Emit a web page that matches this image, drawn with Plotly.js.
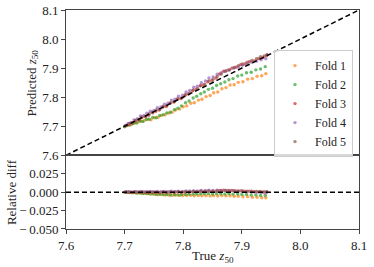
<!DOCTYPE html>
<html>
<head>
<meta charset="utf-8">
<script src="https://cdn.plot.ly/plotly-3.0.1.min.js"></script>
<style>html,body{margin:0;padding:0;background:#fff;}#chart{width:374px;height:267px;}</style>
</head>
<body>
<div id="chart"></div>
<script>
// ---- Data ----
const foldNames = ["Fold 1", "Fold 2", "Fold 3", "Fold 4", "Fold 5"];

const fold1True = [7.701,7.706,7.712,7.717,7.722,7.728,7.733,7.739,7.745,7.751,7.757,7.763,7.769,7.775,7.781,7.787,7.794,7.800,7.806,7.813,7.819,7.826,7.832,7.839,7.846,7.852,7.859,7.866,7.873,7.880,7.887,7.894,7.902,7.910,7.918,7.926,7.934,7.941];
const fold1Pred = [7.700,7.704,7.706,7.712,7.713,7.718,7.719,7.724,7.722,7.729,7.731,7.737,7.739,7.745,7.748,7.756,7.759,7.767,7.770,7.779,7.781,7.790,7.793,7.802,7.806,7.815,7.818,7.829,7.833,7.842,7.843,7.851,7.853,7.862,7.864,7.872,7.874,7.881];

const fold2True = [7.700,7.704,7.709,7.715,7.720,7.726,7.731,7.737,7.742,7.748,7.754,7.760,7.766,7.772,7.778,7.785,7.791,7.797,7.804,7.810,7.817,7.823,7.830,7.836,7.843,7.850,7.857,7.864,7.871,7.878,7.885,7.893,7.900,7.908,7.916,7.924,7.932,7.940];
const fold2Pred = [7.698,7.703,7.704,7.710,7.711,7.717,7.716,7.723,7.724,7.730,7.729,7.737,7.740,7.746,7.748,7.757,7.762,7.770,7.781,7.787,7.797,7.803,7.812,7.818,7.827,7.831,7.840,7.846,7.852,7.860,7.864,7.873,7.876,7.884,7.886,7.894,7.897,7.905];

const fold3True = [7.702,7.707,7.713,7.718,7.724,7.729,7.735,7.741,7.747,7.753,7.759,7.765,7.771,7.777,7.784,7.790,7.796,7.803,7.809,7.816,7.822,7.829,7.835,7.842,7.849,7.856,7.862,7.869,7.876,7.883,7.890,7.898,7.905,7.913,7.921,7.929,7.936,7.942];
const fold3Pred = [7.703,7.706,7.711,7.719,7.722,7.731,7.733,7.738,7.748,7.751,7.756,7.766,7.768,7.779,7.783,7.793,7.795,7.806,7.811,7.822,7.826,7.839,7.842,7.853,7.858,7.866,7.880,7.889,7.893,7.900,7.903,7.912,7.914,7.922,7.925,7.933,7.936,7.943];

const fold4True = [7.701,7.706,7.711,7.716,7.722,7.727,7.733,7.738,7.744,7.750,7.756,7.762,7.768,7.774,7.780,7.786,7.792,7.799,7.805,7.811,7.818,7.824,7.831,7.838,7.844,7.851,7.858,7.865,7.872,7.879,7.886,7.894,7.901,7.909,7.917,7.925,7.933,7.941];
const fold4Pred = [7.703,7.710,7.713,7.722,7.726,7.735,7.737,7.745,7.752,7.754,7.764,7.766,7.776,7.779,7.790,7.793,7.803,7.807,7.818,7.823,7.834,7.838,7.850,7.856,7.866,7.870,7.879,7.884,7.890,7.894,7.900,7.904,7.910,7.914,7.920,7.924,7.929,7.932];

const fold5True = [7.703,7.708,7.714,7.719,7.725,7.730,7.736,7.742,7.748,7.754,7.760,7.766,7.772,7.779,7.785,7.791,7.798,7.804,7.811,7.817,7.824,7.830,7.837,7.844,7.851,7.858,7.865,7.872,7.879,7.887,7.894,7.901,7.909,7.917,7.925,7.932,7.938,7.943];
const fold5Pred = [7.702,7.710,7.712,7.721,7.723,7.732,7.734,7.743,7.746,7.756,7.758,7.768,7.771,7.781,7.785,7.795,7.798,7.809,7.814,7.825,7.830,7.840,7.845,7.856,7.862,7.871,7.880,7.889,7.894,7.902,7.908,7.914,7.920,7.926,7.932,7.939,7.942,7.947];

const refLine = [7.6, 8.1];
const zeroLine = [0, 0];
const xTicks = [7.6, 7.7, 7.8, 7.9, 8.0, 8.1];
const xTickText = ["7.6", "7.7", "7.8", "7.9", "8.0", "8.1"];
const yTicks = [7.6, 7.7, 7.8, 7.9, 8.0, 8.1];
const yTickText = ["7.6", "7.7", "7.8", "7.9", "8.0", "8.1"];
const y2Ticks = [-0.05, -0.025, 0, 0.025];
const y2TickText = ["\u2212\u20090.050", "\u2212\u20090.025", "0.000", "0.025"];

const colors = ["#ff7f0e", "#2ca02c", "#d62728", "#9467bd", "#8c564b"];

// ---- Build traces ----
const trues = [fold1True, fold2True, fold3True, fold4True, fold5True];
const preds = [fold1Pred, fold2Pred, fold3Pred, fold4Pred, fold5Pred];
const traces = [];
for (let i = 0; i < 5; i++) {
  traces.push({
    x: trues[i], y: preds[i], type: "scatter", mode: "markers",
    name: foldNames[i], xaxis: "x", yaxis: "y",
    marker: {color: colors[i], size: 3.4, opacity: 0.7}
  });
}
for (let i = 0; i < 5; i++) {
  const rel = preds[i].map((p, k) => (p - trues[i][k]) / trues[i][k]);
  traces.push({
    x: trues[i], y: rel, type: "scatter", mode: "markers",
    name: foldNames[i], xaxis: "x2", yaxis: "y2", showlegend: false,
    marker: {color: colors[i], size: 3.4, opacity: 0.7}
  });
}
traces.push({x: refLine, y: refLine, type: "scatter", mode: "lines", xaxis: "x", yaxis: "y",
  showlegend: false, hoverinfo: "skip", line: {color: "black", width: 1.5, dash: "5px,3px"}});
traces.push({x: refLine, y: zeroLine, type: "scatter", mode: "lines", xaxis: "x2", yaxis: "y2",
  showlegend: false, hoverinfo: "skip", line: {color: "black", width: 1.5, dash: "5px,3px"}});

const font = {family: "Liberation Serif", size: 13, color: "#222"};
const split = 0.3365;
const axisCommon = {showgrid: false, zeroline: false, showline: true, mirror: true,
  linecolor: "#444", linewidth: 1, ticks: "outside", ticklen: 4, tickwidth: 1, tickcolor: "#444",
  tickfont: font};

const layout = {
  width: 374, height: 267,
  margin: {l: 66, r: 15, t: 10, b: 38},
  paper_bgcolor: "white", plot_bgcolor: "white",
  font: font,
  showlegend: true,
  xaxis: Object.assign({}, axisCommon, {anchor: "y", range: [7.6, 8.1], tickvals: xTicks, ticktext: xTickText,
    showticklabels: false, ticks: "", matches: "x2"}),
  yaxis: Object.assign({}, axisCommon, {domain: [split, 1], range: [7.6, 8.1], tickvals: yTicks, ticktext: yTickText}),
  xaxis2: Object.assign({}, axisCommon, {anchor: "y2", range: [7.6, 8.1], tickvals: xTicks, ticktext: xTickText}),
  yaxis2: Object.assign({}, axisCommon, {domain: [0, split], anchor: "x2", range: [-0.05, 0.05], tickvals: y2Ticks, ticktext: y2TickText}),
  annotations: [
    {text: "Predicted <i>z</i><sub>50</sub>", xref: "paper", yref: "paper", x: -0.114, y: 0.6667,
      xanchor: "center", yanchor: "middle", textangle: -90, showarrow: false, font: font},
    {text: "Relative diff", xref: "paper", yref: "paper", x: -0.184, y: 0.169,
      xanchor: "center", yanchor: "middle", textangle: -90, showarrow: false, font: font},
    {text: "True <i>z</i><sub>50</sub>", xref: "paper", yref: "paper", x: 0.5, y: -0.125,
      xanchor: "center", yanchor: "middle", showarrow: false, font: font}
  ],
  legend: {x: 0.9795, xanchor: "right", y: 0.817, yanchor: "top",
    bgcolor: "rgba(255,255,255,0.8)", bordercolor: "#cccccc", borderwidth: 1,
    font: {family: "Liberation Serif", size: 12, color: "#222"}, itemwidth: 30}
};

Plotly.newPlot("chart", traces, layout, {displayModeBar: false, staticPlot: true});
</script>
</body>
</html>
